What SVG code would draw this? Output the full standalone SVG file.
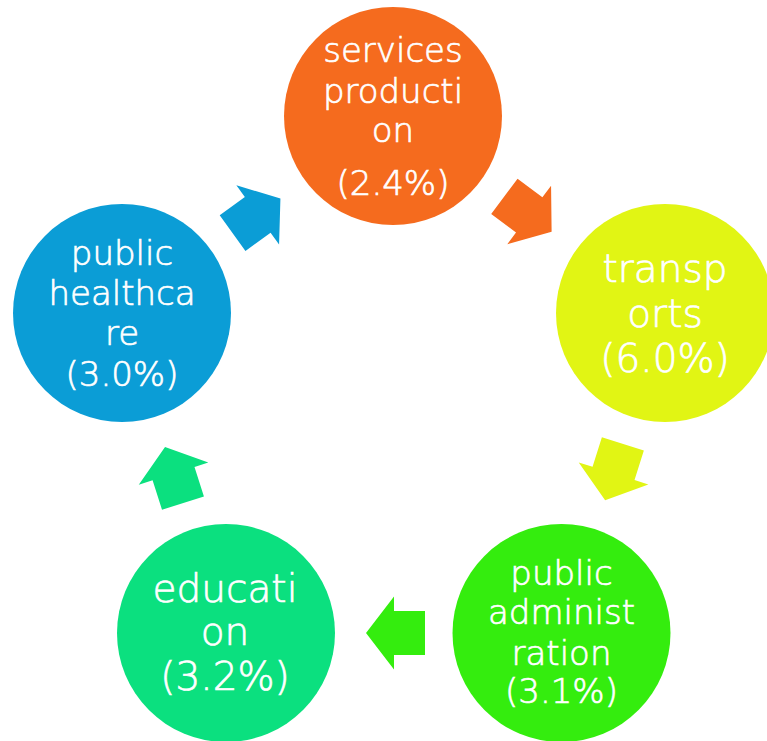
<svg xmlns="http://www.w3.org/2000/svg" xmlns:xlink="http://www.w3.org/1999/xlink" width="767" height="741" viewBox="0 0 767 741">
<style>
.lbl{font-family:"DejaVu Sans","Liberation Sans",sans-serif;font-weight:200;fill:#ffffff;stroke:#ffffff;stroke-width:0.7;text-anchor:middle}
</style>
<defs>
<polygon id="arr" points="-29.5,-22 1.5,-22 1.5,-36.5 29.5,0 1.5,36.5 1.5,22 -29.5,22"/>
</defs>
<rect width="767" height="741" fill="#ffffff"/>
<g id="connectors">
<use xlink:href="#arr" href="#arr" fill="#F56B1E" transform="translate(528,214) rotate(36.8)"/>
<use xlink:href="#arr" href="#arr" fill="#E1F514" transform="translate(614,472) rotate(107.5)"/>
<use xlink:href="#arr" href="#arr" fill="#34ED0E" transform="translate(395.5,633) rotate(180)"/>
<use xlink:href="#arr" href="#arr" fill="#0BE07F" transform="translate(174,475) rotate(-107.7)"/>
<use xlink:href="#arr" href="#arr" fill="#0B9DD6" transform="translate(256.5,215.8) rotate(-35.8)"/>
</g>
<g id="services">
<circle cx="393" cy="116" r="109" fill="#F56B1E"/>
<text class="lbl" font-size="34"><tspan x="393" y="62">services</tspan><tspan x="393" y="103">producti</tspan><tspan x="393" y="142">on</tspan><tspan x="393" y="195">(2.4%)</tspan></text>
</g>
<g id="transports">
<circle cx="665" cy="313" r="109" fill="#E1F514"/>
<text class="lbl" font-size="39"><tspan x="665" y="282">transp</tspan><tspan x="665" y="327">orts</tspan><tspan x="665" y="372">(6.0%)</tspan></text>
</g>
<g id="public-administration">
<circle cx="561.5" cy="633" r="109" fill="#34ED0E"/>
<text class="lbl" font-size="34"><tspan x="561.5" y="585">public</tspan><tspan x="561.5" y="624">administ</tspan><tspan x="561.5" y="665">ration</tspan><tspan x="561.5" y="703">(3.1%)</tspan></text>
</g>
<g id="education">
<circle cx="226" cy="633" r="109" fill="#0BE07F"/>
<text class="lbl" font-size="39"><tspan x="225" y="602">educati</tspan><tspan x="225" y="645">on</tspan><tspan x="225" y="690">(3.2%)</tspan></text>
</g>
<g id="public-healthcare">
<circle cx="122" cy="313" r="109" fill="#0B9DD6"/>
<text class="lbl" font-size="34"><tspan x="122" y="265">public</tspan><tspan x="122" y="305">healthca</tspan><tspan x="122" y="345">re</tspan><tspan x="122" y="386">(3.0%)</tspan></text>
</g>
</svg>
